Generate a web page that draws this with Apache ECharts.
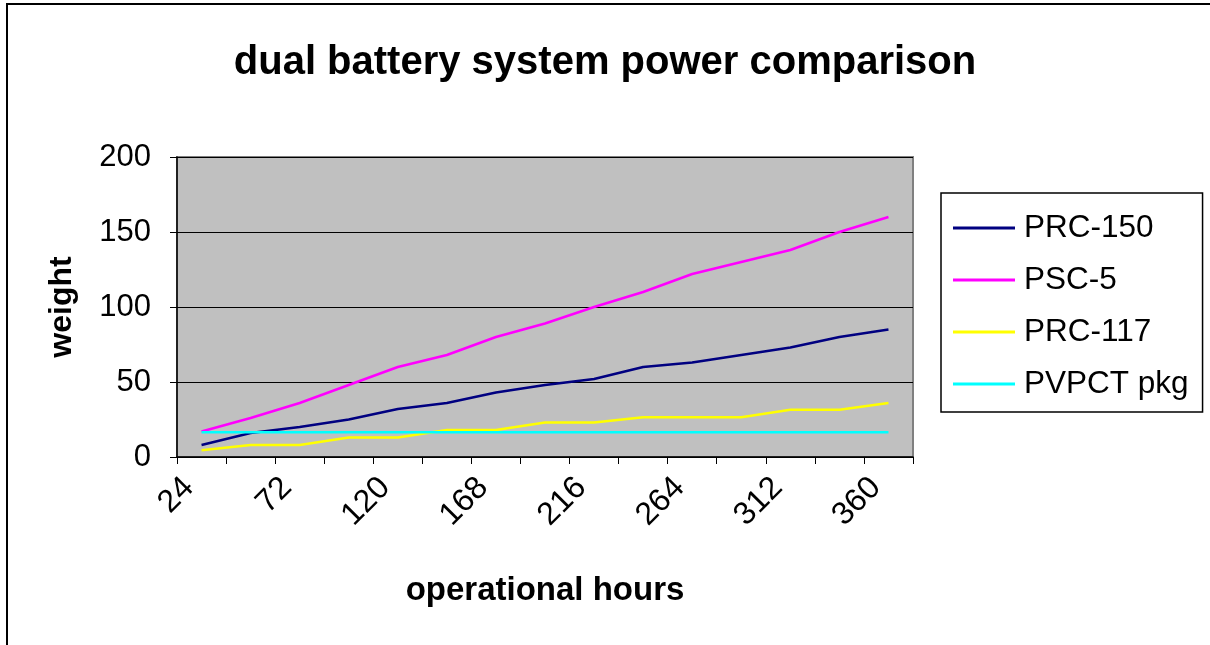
<!DOCTYPE html>
<html>
<head>
<meta charset="utf-8">
<script src="https://cdn.jsdelivr.net/npm/echarts@6/dist/echarts.min.js"></script>
<style>
html,body{margin:0;padding:0;background:#fff;}
#c{width:1210px;height:645px;}
</style>
</head>
<body>
<div id="c"></div>
<script>
var hours = ['24','48','72','96','120','144','168','192','216','240','264','288','312','336','360'];
var prc150 = [8, 16, 20, 25, 32, 36, 43, 48, 52, 60, 63, 68, 73, 80, 85];
var psc5 = [17, 26, 36, 48, 60, 68, 80, 89, 100, 110, 122, 130, 138, 150, 160];
var prc117 = [4.5, 8, 8, 13, 13, 18, 18, 23, 23, 26.5, 26.5, 26.5, 31.5, 31.5, 36];
var pvpct = [16.5, 16.5, 16.5, 16.5, 16.5, 16.5, 16.5, 16.5, 16.5, 16.5, 16.5, 16.5, 16.5, 16.5, 16.5];
var yTicks = [0, 50, 100, 150, 200];

var chart = echarts.init(document.getElementById('c'));
var font = 'Liberation Sans, Arial, sans-serif';
function ser(name, data, color) {
  return {
    name: name, type: 'line', data: data, showSymbol: false, symbol: 'none',
    lineStyle: {color: color, width: 2.5}, itemStyle: {color: color}, animation: false
  };
}
chart.setOption({
  animation: false,
  backgroundColor: '#ffffff',
  title: {
    text: 'dual battery system power comparison',
    left: 'center', top: 38,
    textStyle: {fontFamily: font, fontSize: 40, fontWeight: 'bold', color: '#000'}
  },
  graphic: [{
    type: 'rect', silent: true, z: -10,
    shape: {x: 7, y: 4, width: 1300, height: 800},
    style: {fill: 'none', stroke: '#000', lineWidth: 2}
  }],
  legend: {
    orient: 'vertical', left: 941, top: 193,
    padding: [9, 14, 2, 12], itemGap: 0,
    borderColor: '#000', borderWidth: 1.5,
    icon: 'rect', itemWidth: 62, itemHeight: 3,
    textStyle: {fontFamily: font, fontSize: 31.5, color: '#000', lineHeight: 52, padding: [0, 0, 0, 4]},
    data: ['PRC-150', 'PSC-5', 'PRC-117', 'PVPCT pkg']
  },
  grid: {
    left: 177, right: 297, top: 157, bottom: 188,
    show: true, backgroundColor: '#c0c0c0', borderColor: '#808080', borderWidth: 2
  },
  xAxis: {
    type: 'category', data: hours, boundaryGap: true,
    name: 'operational hours', nameLocation: 'middle', nameGap: 117,
    nameTextStyle: {fontFamily: font, fontSize: 33, fontWeight: 'bold', color: '#000'},
    axisLine: {lineStyle: {color: '#000', width: 1.5}},
    axisTick: {show: true, interval: 0, alignWithLabel: false, length: 7, inside: false, lineStyle: {color: '#000'}},
    axisLabel: {interval: 1, rotate: 45, margin: 13, padding: [0, 18, 0, 0], fontFamily: font, fontSize: 32, color: '#000'},
    splitLine: {show: false}
  },
  yAxis: {
    type: 'value', min: yTicks[0], max: yTicks[yTicks.length - 1], interval: 50,
    name: 'weight', nameLocation: 'middle', nameGap: 99, nameRotate: 90,
    nameTextStyle: {fontFamily: font, fontSize: 32, fontWeight: 'bold', color: '#000'},
    axisLine: {show: true, lineStyle: {color: '#000', width: 1.5}},
    axisTick: {show: true, length: 7, lineStyle: {color: '#000'}},
    axisLabel: {margin: 26, fontFamily: font, fontSize: 31, color: '#000'},
    splitLine: {show: true, lineStyle: {color: '#000', width: 1}}
  },
  series: [
    ser('PRC-150', prc150, '#000080'),
    ser('PSC-5', psc5, '#ff00ff'),
    ser('PRC-117', prc117, '#ffff00'),
    ser('PVPCT pkg', pvpct, '#00ffff')
  ]
});
</script>
</body>
</html>
